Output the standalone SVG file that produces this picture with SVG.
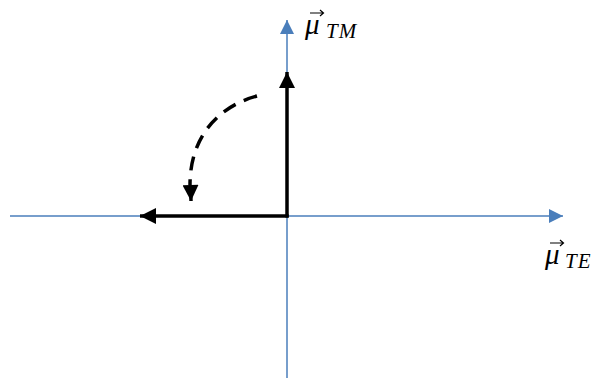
<svg xmlns="http://www.w3.org/2000/svg" width="593" height="378" viewBox="0 0 593 378">
<defs>
<style>
.axis{stroke:#4a7ebb;stroke-width:1.5;fill:none}
.vec{stroke:#000;stroke-width:3.5;fill:none}
.lbl{font-family:"Liberation Serif","DejaVu Serif",serif;font-style:italic;fill:#000}
.acc{stroke:#000;stroke-width:1.2;fill:none}
</style>
<marker id="ab" viewBox="0 0 10 10" refX="10" refY="5" markerUnits="userSpaceOnUse" markerWidth="14" markerHeight="14" orient="auto"><path d="M0,0 L10,5 L0,10 z" fill="#4a7ebb"/></marker>
<marker id="ak" viewBox="0 0 10 10" refX="10" refY="5" markerUnits="userSpaceOnUse" markerWidth="18" markerHeight="16" orient="auto"><path d="M0,0 L10,5 L0,10 z" fill="#000"/></marker>
</defs>
<g id="connectors">
<line class="axis" x1="10" y1="216" x2="563" y2="216" marker-end="url(#ab)"/>
<line class="axis" x1="287" y1="378" x2="287" y2="20" marker-end="url(#ab)"/>
<line class="vec" x1="287" y1="217.5" x2="287" y2="72" marker-end="url(#ak)"/>
<line class="vec" x1="288.7" y1="216" x2="140" y2="216" marker-end="url(#ak)"/>
<path class="vec" d="M257,96 C220,106 190,135 190,185" stroke-dasharray="14,9"/>
<line class="vec" x1="190.5" y1="185" x2="191" y2="201" marker-end="url(#ak)"/>
</g>
<g id="label-tm">
<text class="lbl" x="305" y="34" font-size="29">μ</text>
<path class="acc" d="M310,13 H323 M320,10 L323.5,13 L320,16"/>
<text class="lbl" x="326" y="38" font-size="21" letter-spacing="1">TM</text>
</g>
<g id="label-te">
<text class="lbl" x="545" y="264" font-size="29">μ</text>
<path class="acc" d="M550,243 H563 M560,240 L563.5,243 L560,246"/>
<text class="lbl" x="565" y="268" font-size="21" letter-spacing="1">TE</text>
</g>
</svg>
